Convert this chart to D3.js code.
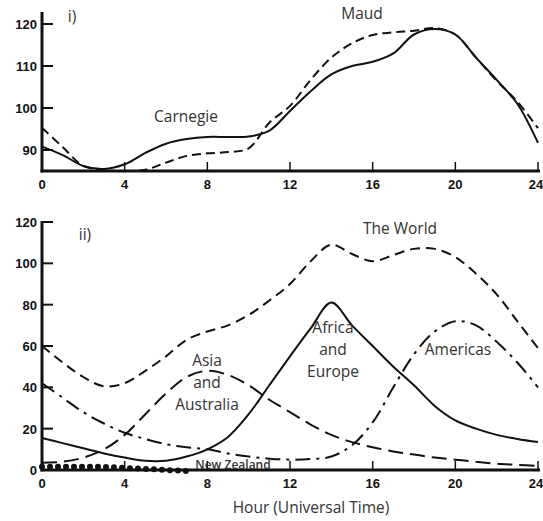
<!doctype html>
<html>
  <head>
    <meta charset="utf-8">
    <script src="https://cdn.jsdelivr.net/npm/d3@7"></script>
    <style>
      body { margin: 0; background: white; }
      .tick-label { font-family: "Liberation Sans", Arial, sans-serif; font-weight: bold; font-size: 13px; fill: #111; }
      .label { font-family: "Open Sans", "Noto Sans", sans-serif; font-size: 15.5px; fill: #333; }
      .curve { fill: none; stroke: #111; stroke-width: 2; }
    </style>
  </head>
  <body>
    <svg id="chart" width="543" height="521"></svg>
    <script>
      // hours of the day, shared by every curve
      const hours = d3.range(0, 25)

      // panel i) potential gradient
      const carnegie = [90.8, 88.8, 86.2, 85.5, 86.6, 89.3, 91.5, 92.6, 93.1, 93.1, 93.2, 94.6, 99.3, 104, 108, 110, 111, 113, 117.5, 118.8, 117.5, 112, 106.7, 101, 91.7]
      const maud = [95.3, 90.7, 86.2, 85.2, 85.0, 85.3, 87.0, 88.6, 89.2, 89.5, 90.4, 96.5, 100.5, 106.7, 112, 115.4, 117.4, 118, 118.4, 119, 117.5, 112, 106.5, 101.5, 95.2]
      const topTicks = [90, 100, 110, 120]

      // panel ii) thunderstorm areas
      const world = [60, 52, 45, 40.5, 42, 48, 55, 63, 67, 70, 75, 82, 90, 101, 109, 104.5, 101, 104, 107, 107, 103, 95, 85, 72, 59]
      const asia = [3.5, 4, 6, 10, 17, 27, 37, 45, 48, 46, 41, 34, 28, 22, 17, 13.5, 11, 9, 7.5, 6, 5, 4, 3, 2.5, 2]
      const africa = [15.5, 13, 10.5, 8, 6, 4.5, 4.5, 6.5, 10, 16, 27, 41, 55, 68.5, 81, 70, 60, 50, 41, 31, 24, 20, 17, 15, 13.5]
      const americas = [42, 35, 28, 22.5, 18, 15, 12.5, 11, 10, 8, 6.5, 5.5, 5, 5.3, 6.5, 12, 23, 40, 56, 67, 72, 70, 62, 52, 40]
      const newZealand = [2, 2, 2, 2, 1.5, 1, 0.5, 0]
      const bottomTicks = [0, 20, 40, 60, 80, 100, 120]
      const hourTicks = [0, 4, 8, 12, 16, 20, 24]

      const svg = d3.select("#chart")

      const x = d3.scaleLinear().domain([0, 24]).range([42, 538])
      const yTop = d3.scaleLinear().domain([85, 120]).range([171, 24])
      const yBot = d3.scaleLinear().domain([0, 120]).range([470, 222])

      function panel(y, yTicks, topPx) {
        const g = svg.append("g")
        // axes as thick lines
        g.append("line")
          .attr("x1", x(0)).attr("x2", x(0))
          .attr("y1", topPx).attr("y2", y.range()[0] + 1.5)
          .attr("stroke", "#111").attr("stroke-width", 3)
        g.append("line")
          .attr("x1", x(0) - 1.5).attr("x2", x(24) + 2)
          .attr("y1", y.range()[0]).attr("y2", y.range()[0])
          .attr("stroke", "#111").attr("stroke-width", 3)

        g.selectAll(".ytick").data(yTicks.filter(v => v !== y.domain()[0]))
          .enter().append("line")
            .attr("x1", x(0)).attr("x2", x(0) + 11)
            .attr("y1", d => y(d)).attr("y2", d => y(d))
            .attr("stroke", "#111").attr("stroke-width", 2)

        g.selectAll(".ylab").data(yTicks)
          .enter().append("text")
            .attr("class", "tick-label")
            .attr("x", 37).attr("y", d => y(d) + 5)
            .attr("text-anchor", "end")
            .text(d => d)

        g.selectAll(".xtick").data(hourTicks.slice(1))
          .enter().append("line")
            .attr("x1", d => x(d)).attr("x2", d => x(d))
            .attr("y1", y.range()[0]).attr("y2", y.range()[0] - 9)
            .attr("stroke", "#111").attr("stroke-width", 1.5)

        g.selectAll(".xlab").data(hourTicks)
          .enter().append("text")
            .attr("class", "tick-label")
            .attr("x", d => x(d) + (d === 24 ? -2 : 0)).attr("y", y.range()[0] + 18)
            .attr("text-anchor", "middle")
            .text(d => d)
      }

      panel(yTop, topTicks, 12)
      panel(yBot, bottomTicks, 221)

      function curve(data, y, dash) {
        const line = d3.line()
          .x((d, i) => x(hours[i]))
          .y(d => y(d))
          .curve(d3.curveCatmullRom.alpha(0.5))
        svg.append("path")
          .datum(data)
          .attr("class", "curve")
          .attr("stroke-dasharray", dash)
          .attr("d", line)
      }

      curve(carnegie, yTop, null)
      curve(maud, yTop, "9,5")

      curve(world, yBot, "10,6")
      curve(asia, yBot, "15,7")
      curve(africa, yBot, null)
      curve(americas, yBot, "15,6,3,6")

      // New Zealand: a row of small humps on the axis
      svg.append("path")
        .datum(newZealand)
        .attr("fill", "none")
        .attr("stroke", "#111")
        .attr("stroke-width", 6)
        .attr("stroke-linecap", "round")
        .attr("stroke-dasharray", "0,8")
        .attr("d", d3.line()
          .x((d, i) => x(hours[i]))
          .y(d => yBot(d) + 1)
          .curve(d3.curveMonotoneX))

      const labels = [
        { t: "i)", x: 72, y: 22 },
        { t: "Carnegie", x: 186, y: 122 },
        { t: "Maud", x: 362, y: 19 },
        { t: "ii)", x: 85, y: 240 },
        { t: "The World", x: 400, y: 234 },
        { t: "Asia", x: 207, y: 366 },
        { t: "and", x: 207, y: 388 },
        { t: "Australia", x: 207, y: 410 },
        { t: "Africa", x: 333, y: 333 },
        { t: "and", x: 333, y: 355 },
        { t: "Europe", x: 333, y: 377 },
        { t: "Americas", x: 458, y: 355 }
      ]
      svg.selectAll(".lbl").data(labels)
        .enter().append("text")
          .attr("class", "label")
          .attr("x", d => d.x).attr("y", d => d.y)
          .attr("text-anchor", "middle")
          .text(d => d.t)

      svg.append("text")
        .attr("class", "label")
        .style("font-size", "12px")
        .style("font-weight", "600")
        .attr("x", 233).attr("y", 469)
        .attr("text-anchor", "middle")
        .text("New Zealand")

      svg.append("text")
        .attr("class", "label")
        .style("font-size", "15.5px")
        .attr("x", 311).attr("y", 513)
        .attr("text-anchor", "middle")
        .text("Hour (Universal Time)")
    </script>
  </body>
</html>
